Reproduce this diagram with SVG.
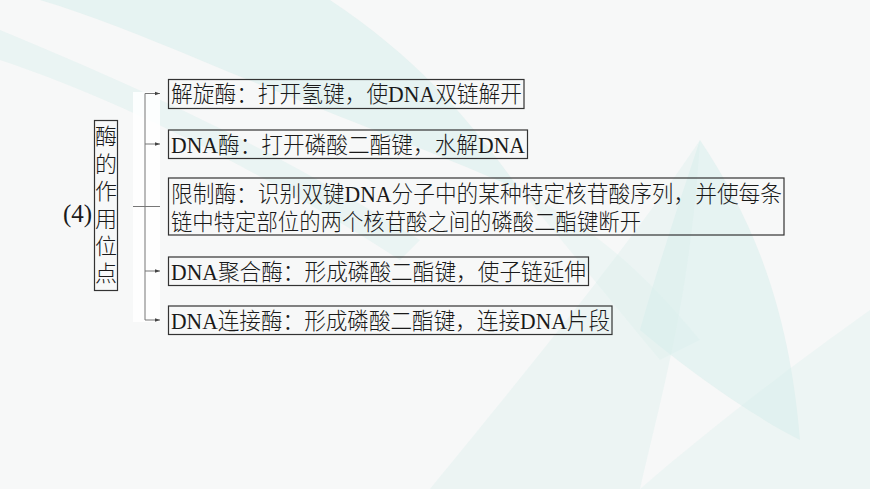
<svg xmlns="http://www.w3.org/2000/svg" width="870" height="489" viewBox="0 0 870 489">
<style>
.bg{fill:#d6eeec}
.box{fill:none;stroke:#333;stroke-width:1.2}
.t{font-family:"Liberation Serif","Noto Sans CJK SC",serif;font-size:23px;font-weight:300;fill:#1a1a1a}
.v{font-family:"Liberation Serif","Noto Sans CJK SC",serif;font-size:22px;font-weight:300;fill:#1a1a1a;text-anchor:middle}
.c{fill:none;stroke:#777;stroke-width:1}
</style>
<defs>
<marker id="ah" viewBox="0 0 6 6" refX="6" refY="3" markerWidth="5" markerHeight="5" orient="auto" markerUnits="userSpaceOnUse">
<path d="M0,0.8 L6,3 L0,5.2 Z" fill="#444"/>
</marker>
</defs>
<g id="background">
<rect x="0" y="0" width="870" height="489" fill="#f7f8f8"/>
<path class="bg" opacity="0.5" d="M40,0 L330,0 C420,60 470,120 520,190 C430,150 320,110 200,60 C140,35 90,15 40,0 Z"/>
<path class="bg" opacity="0.4" d="M0,30 C120,80 260,140 420,240 L400,260 C260,170 120,100 0,60 Z"/>
<path class="bg" opacity="0.5" d="M700,140 C760,230 790,320 800,440 C760,420 700,380 640,330 C660,260 680,200 700,140 Z"/>
<path class="bg" opacity="0.35" d="M700,140 C640,230 560,330 430,489 L640,489 C660,400 690,300 700,140 Z"/>
<path class="bg" opacity="0.3" d="M640,489 C720,420 800,360 870,310 L870,489 Z"/>
<path class="bg" opacity="0.3" d="M520,190 C600,230 650,280 700,340 L660,360 C610,300 570,250 520,190 Z"/>
<rect x="133" y="92" width="27" height="230" fill="#ffffff" opacity="0.85"/>
</g>
<g id="connectors">
<line class="c" x1="145" y1="93.5" x2="145" y2="320"/>
<line class="c" x1="133" y1="206.5" x2="160" y2="206.5"/>
<line class="c" x1="145" y1="93.5" x2="160" y2="93.5" marker-end="url(#ah)"/>
<line class="c" x1="145" y1="144" x2="160" y2="144" marker-end="url(#ah)"/>
<line class="c" x1="145" y1="271" x2="160" y2="271" marker-end="url(#ah)"/>
<line class="c" x1="145" y1="320" x2="160" y2="320" marker-end="url(#ah)"/>
</g>
<g id="label4">
<text class="t" x="63" y="222" style="font-size:25px">(4)</text>
</g>
<g id="root">
<rect class="box" x="94.5" y="120.5" width="23" height="170"/>
<text class="v" x="106" y="144">酶</text>
<text class="v" x="106" y="171.5">的</text>
<text class="v" x="106" y="199">作</text>
<text class="v" x="106" y="226.5">用</text>
<text class="v" x="106" y="253.5">位</text>
<text class="v" x="106" y="281">点</text>
</g>
<g id="n1">
<rect class="box" x="168.5" y="79.5" width="355.5" height="29"/>
<text class="t" x="171" y="102" textLength="351" lengthAdjust="spacingAndGlyphs">解旋酶：打开氢键，使DNA双链解开</text>
</g>
<g id="n2">
<rect class="box" x="168.5" y="130" width="359" height="28.5"/>
<text class="t" x="171" y="152.5" textLength="354" lengthAdjust="spacingAndGlyphs">DNA酶：打开磷酸二酯键，水解DNA</text>
</g>
<g id="n3">
<rect class="box" x="168.5" y="178" width="615.5" height="57"/>
<text class="t" x="171" y="201.5" textLength="611" lengthAdjust="spacingAndGlyphs">限制酶：识别双键DNA分子中的某种特定核苷酸序列，并使每条</text>
<text class="t" x="171" y="229.5" textLength="470" lengthAdjust="spacingAndGlyphs">链中特定部位的两个核苷酸之间的磷酸二酯键断开</text>
</g>
<g id="n4">
<rect class="box" x="168.5" y="257" width="420" height="28.5"/>
<text class="t" x="171" y="279.5" textLength="415" lengthAdjust="spacingAndGlyphs">DNA聚合酶：形成磷酸二酯键，使子链延伸</text>
</g>
<g id="n5">
<rect class="box" x="168.5" y="306" width="443.5" height="28.5"/>
<text class="t" x="171" y="328.5" textLength="439" lengthAdjust="spacingAndGlyphs">DNA连接酶：形成磷酸二酯键，连接DNA片段</text>
</g>
</svg>
